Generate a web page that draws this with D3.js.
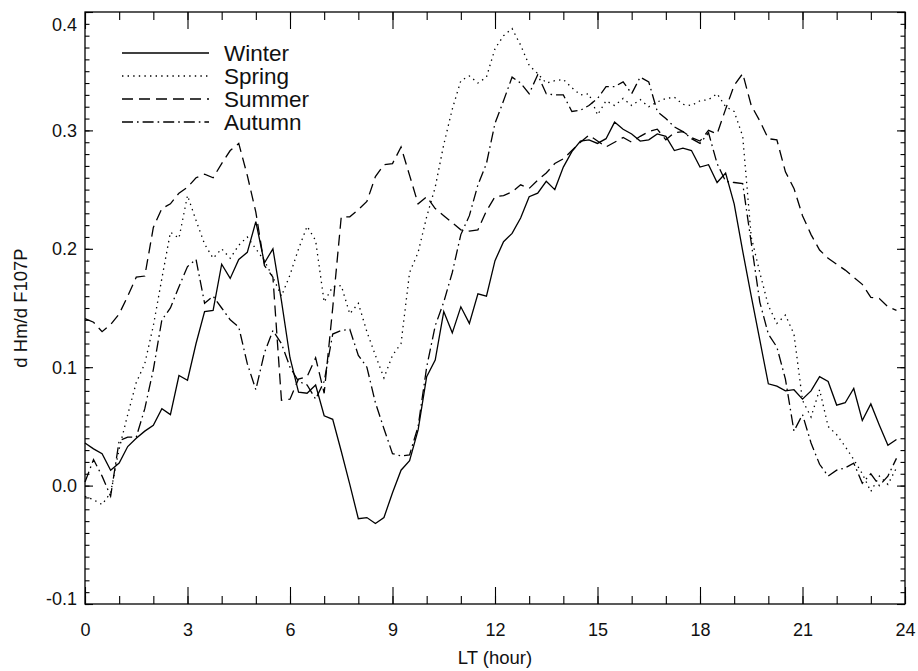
<!DOCTYPE html>
<html>
<head>
<meta charset="utf-8">
<script src="https://cdn.jsdelivr.net/npm/d3@7"></script>
<style>
  body { margin: 0; background: #fff; }
  #chart text { font-family: "Liberation Sans", Arial, Helvetica, sans-serif; fill: #111; }
</style>
</head>
<body>
<div id="chart"></div>
<script>
"use strict";

// local time, every 15 minutes
const hours = d3.range(96).map((i) => i * 0.25);

const winter = [
  0.036, 0.031, 0.027, 0.013, 0.019, 0.033, 0.040, 0.046,
  0.051, 0.065, 0.060, 0.093, 0.089, 0.120, 0.147, 0.148,
  0.187, 0.175, 0.191, 0.197, 0.223, 0.188, 0.200, 0.156,
  0.108, 0.079, 0.078, 0.085, 0.059, 0.056, 0.029, 0.001,
  -0.028, -0.027, -0.032, -0.027, -0.006, 0.013, 0.021, 0.047,
  0.092, 0.106, 0.147, 0.129, 0.151, 0.137, 0.162, 0.160,
  0.190, 0.206, 0.213, 0.226, 0.244, 0.247, 0.257, 0.250,
  0.269, 0.282, 0.291, 0.292, 0.289, 0.293, 0.307, 0.301,
  0.297, 0.291, 0.292, 0.297, 0.295, 0.283, 0.285, 0.283,
  0.269, 0.271, 0.256, 0.264, 0.238, 0.198, 0.160, 0.123,
  0.086, 0.084, 0.080, 0.081, 0.073, 0.080, 0.092, 0.088,
  0.068, 0.070, 0.082, 0.055, 0.069, 0.051, 0.034, 0.039,
];

const spring = [
  -0.009, -0.012, -0.016, -0.006, 0.031, 0.060, 0.087, 0.103,
  0.135, 0.175, 0.214, 0.209, 0.245, 0.224, 0.204, 0.192,
  0.200, 0.192, 0.203, 0.210, 0.200, 0.190, 0.176, 0.160,
  0.178, 0.200, 0.219, 0.207, 0.155, 0.168, 0.169, 0.145,
  0.154, 0.130, 0.110, 0.091, 0.110, 0.120, 0.180, 0.197,
  0.227, 0.252, 0.288, 0.318, 0.342, 0.346, 0.340, 0.345,
  0.369, 0.380, 0.386, 0.372, 0.355, 0.348, 0.340, 0.342,
  0.343, 0.336, 0.330, 0.331, 0.313, 0.325, 0.321, 0.327,
  0.321, 0.326, 0.320, 0.324, 0.327, 0.328, 0.322, 0.321,
  0.325, 0.326, 0.331, 0.320, 0.316, 0.295, 0.210, 0.180,
  0.152, 0.137, 0.144, 0.128, 0.072, 0.058, 0.081, 0.050,
  0.043, 0.033, 0.022, 0.010, -0.005, 0.008, 0.001, 0.015,
];

const summer = [
  0.141, 0.138, 0.130, 0.136, 0.145, 0.160, 0.176, 0.177,
  0.218, 0.234, 0.238, 0.247, 0.252, 0.260, 0.263, 0.260,
  0.272, 0.283, 0.289, 0.262, 0.231, 0.186, 0.176, 0.072,
  0.073, 0.090, 0.092, 0.108, 0.078, 0.150, 0.227, 0.227,
  0.233, 0.240, 0.261, 0.271, 0.272, 0.286, 0.262, 0.238,
  0.244, 0.234, 0.228, 0.222, 0.216, 0.215, 0.216, 0.232,
  0.244, 0.245, 0.248, 0.254, 0.251, 0.258, 0.264, 0.272,
  0.276, 0.283, 0.290, 0.296, 0.291, 0.286, 0.290, 0.294,
  0.290, 0.295, 0.299, 0.301, 0.292, 0.298, 0.299, 0.294,
  0.291, 0.300, 0.297, 0.318, 0.338, 0.348, 0.321, 0.308,
  0.293, 0.292, 0.265, 0.251, 0.228, 0.212, 0.199, 0.192,
  0.187, 0.182, 0.176, 0.170, 0.159, 0.158, 0.151, 0.148,
];

const autumn = [
  0.003, 0.022, 0.008, -0.009, 0.038, 0.041, 0.041, 0.065,
  0.098, 0.140, 0.150, 0.168, 0.185, 0.191, 0.154, 0.160,
  0.150, 0.140, 0.134, 0.103, 0.081, 0.112, 0.131, 0.120,
  0.100, 0.088, 0.085, 0.073, 0.088, 0.128, 0.131, 0.132,
  0.110, 0.100, 0.070, 0.048, 0.027, 0.025, 0.026, 0.050,
  0.100, 0.135, 0.155, 0.180, 0.212, 0.228, 0.254, 0.272,
  0.306, 0.325, 0.345, 0.340, 0.331, 0.347, 0.331, 0.330,
  0.330, 0.316, 0.317, 0.321, 0.327, 0.337, 0.337, 0.341,
  0.331, 0.345, 0.341, 0.316, 0.310, 0.303, 0.299, 0.293,
  0.289, 0.298, 0.272, 0.257, 0.256, 0.255, 0.205, 0.155,
  0.128, 0.117, 0.090, 0.046, 0.060, 0.036, 0.018, 0.008,
  0.013, 0.015, 0.019, 0.002, 0.010, 0.000, 0.008, 0.023,
];

const seasonNames = ["Winter", "Spring", "Summer", "Autumn"];
const xMajorTicks = [0, 3, 6, 9, 12, 15, 18, 21, 24];
const yMajorTicks = [-0.1, 0.0, 0.1, 0.2, 0.3, 0.4];

// line style per season: solid, dotted, dashed, dash-dot
const dashes = [null, "1.4,4.2", "11,6", "11,4,1.6,4"];

const W = 918;
const H = 671;
const margin = { left: 85, right: 13, top: 12, bottom: 67 };

// plain hyphen for negatives, like the original plot
function yFormat(v) {
  return d3.format(".1f")(v).replace("\u2212", "-");
}

function draw() {
  const svg = d3
    .select("#chart")
    .append("svg")
    .attr("width", W)
    .attr("height", H);

  const pw = W - margin.left - margin.right;
  const ph = H - margin.top - margin.bottom;

  const x = d3.scaleLinear().domain([0, 24]).range([0, pw]);
  const y = d3.scaleLinear().domain([-0.1, 0.4]).range([ph, 0]);

  const g = svg
    .append("g")
    .attr("transform", `translate(${margin.left},${margin.top})`);

  // minor ticks first, then majors with labels
  const minorX = d3.range(0, 25, 1);
  const minorY = d3.range(-10, 41).map((v) => v / 100);

  const axes = [
    [d3.axisBottom(x).tickValues(minorX).tickSize(-8), `translate(0,${ph})`],
    [d3.axisTop(x).tickValues(minorX).tickSize(-8), null],
    [d3.axisLeft(y).tickValues(minorY).tickSize(-4.5), null],
    [d3.axisRight(y).tickValues(minorY).tickSize(-4.5), `translate(${pw},0)`],
    [d3.axisTop(x).tickValues(xMajorTicks).tickSize(-17), null],
    [d3.axisRight(y).tickValues(yMajorTicks).tickSize(-8), `translate(${pw},0)`],
  ];
  axes.forEach(([ax, tr]) => {
    const a = g.append("g").call(ax.tickFormat(""));
    if (tr) a.attr("transform", tr);
  });

  g.append("g")
    .attr("transform", `translate(0,${ph})`)
    .call(
      d3
        .axisBottom(x)
        .tickValues(xMajorTicks)
        .tickSize(-17)
        .tickPadding(19)
        .tickFormat(d3.format("d"))
    );

  const yAxis = g
    .append("g")
    .call(
      d3
        .axisLeft(y)
        .tickValues(yMajorTicks)
        .tickSize(-8)
        .tickPadding(8)
        .tickFormat(yFormat)
    );

  g.selectAll(".domain").remove();
  g.selectAll(".tick line").attr("stroke", "#000").attr("stroke-width", 1.1);
  g.selectAll(".tick text")
    .style("font-size", "18px")
    .attr("fill", "#111");

  // end labels are pushed inside the frame, like the original
  yAxis.selectAll(".tick text").attr("dy", (d) => {
    if (d === 0.4) return "1.02em";
    if (d === -0.1) return "0.0em";
    return "0.34em";
  });

  // frame
  g.append("rect")
    .attr("width", pw)
    .attr("height", ph)
    .attr("fill", "none")
    .attr("stroke", "#000")
    .attr("stroke-width", 1.3);

  // series
  const allSeries = [winter, spring, summer, autumn];
  const line = d3
    .line()
    .x((d, i) => x(hours[i]))
    .y((d) => y(d));

  g.append("g")
    .selectAll("path")
    .data(allSeries)
    .enter()
    .append("path")
    .attr("d", line)
    .attr("fill", "none")
    .attr("stroke", "#000")
    .attr("stroke-width", 1.3)
    .attr("stroke-dasharray", (d, i) => dashes[i]);

  // legend
  const legend = g.append("g").attr("transform", "translate(37,41)");
  seasonNames.forEach((name, i) => {
    const row = legend.append("g").attr("transform", `translate(0,${i * 23})`);
    row
      .append("line")
      .attr("x1", 0)
      .attr("x2", 87)
      .attr("stroke", "#000")
      .attr("stroke-width", 1.3)
      .attr("stroke-dasharray", dashes[i]);
    row
      .append("text")
      .attr("x", 102)
      .attr("y", 8)
      .style("font-size", "22.5px")
      .text(name);
  });

  // axis titles
  svg
    .append("text")
    .attr("x", margin.left + pw / 2)
    .attr("y", 664)
    .attr("text-anchor", "middle")
    .style("font-size", "18.5px")
    .text("LT (hour)");

  svg
    .append("text")
    .attr("transform", `translate(27,${margin.top + ph / 2}) rotate(-90)`)
    .attr("text-anchor", "middle")
    .style("font-size", "18.5px")
    .text("d Hm/d F107P");
}

draw();
</script>
</body>
</html>
